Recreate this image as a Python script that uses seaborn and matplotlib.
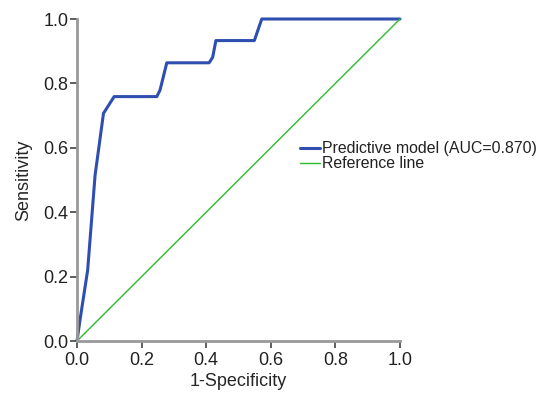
import matplotlib
matplotlib.use("Agg")
import matplotlib.pyplot as plt
import seaborn as sns
import pandas as pd

# ROC curve points
fpr = [0.0, 0.01, 0.033, 0.056, 0.082, 0.115, 0.247, 0.257, 0.278, 0.409, 0.420, 0.430, 0.549, 0.572, 1.0]
tpr = [0.0, 0.07, 0.22, 0.515, 0.707, 0.759, 0.759, 0.779, 0.864, 0.864, 0.881, 0.933, 0.933, 1.0, 1.0]
ref_x = [0.0, 1.0]
ref_y = [0.0, 1.0]
model_label = "Predictive model (AUC=0.870)"
ref_label = "Reference line"
ticks = [0.0, 0.2, 0.4, 0.6, 0.8, 1.0]
tick_labels = ["0.0", "0.2", "0.4", "0.6", "0.8", "1.0"]

sns.set_style("white")
plt.rcParams["font.family"] = ["Liberation Sans", "DejaVu Sans"]

fig = plt.figure(figsize=(5.42, 3.93), dpi=100)
ax = fig.add_axes([77 / 542, 1 - 341 / 393, 323 / 542, 322 / 393])

df_model = pd.DataFrame({"x": fpr, "y": tpr})
df_ref = pd.DataFrame({"x": ref_x, "y": ref_y})

sns.lineplot(data=df_model, x="x", y="y", sort=False, estimator=None, ax=ax,
             color="#2f4fb0", linewidth=2.2, label=model_label, clip_on=False)
sns.lineplot(data=df_ref, x="x", y="y", sort=False, estimator=None, ax=ax,
             color="#2dbb2d", linewidth=1.0, label=ref_label, clip_on=False)

ax.set_xlim(0, 1)
ax.set_ylim(0, 1)
ax.set_xticks(ticks)
ax.set_xticklabels(tick_labels)
ax.set_yticks(ticks)
ax.set_yticklabels(tick_labels)
ax.set_xlabel("1-Specificity", fontsize=13, labelpad=3)
ax.set_ylabel("Sensitivity", fontsize=13, labelpad=8)

for side in ["top", "right"]:
    ax.spines[side].set_visible(False)
for side in ["left", "bottom"]:
    ax.spines[side].set_color("#999999")
    ax.spines[side].set_linewidth(2.0)

ax.tick_params(axis="x", pad=3)
ax.tick_params(axis="y", pad=1)
ax.tick_params(axis="both", which="major", direction="out", length=5, width=1.2,
               color="#444444", labelsize=13, labelcolor="#222222",
               bottom=True, left=True)

leg = ax.legend(loc="upper left", bbox_to_anchor=(0.67, 0.64), frameon=False,
                fontsize=11.4, handlelength=1.3, handletextpad=0.1,
                labelspacing=0.0, borderaxespad=0)
for t in leg.get_texts():
    t.set_color("#222222")

fig.savefig("out.png", dpi=100)
